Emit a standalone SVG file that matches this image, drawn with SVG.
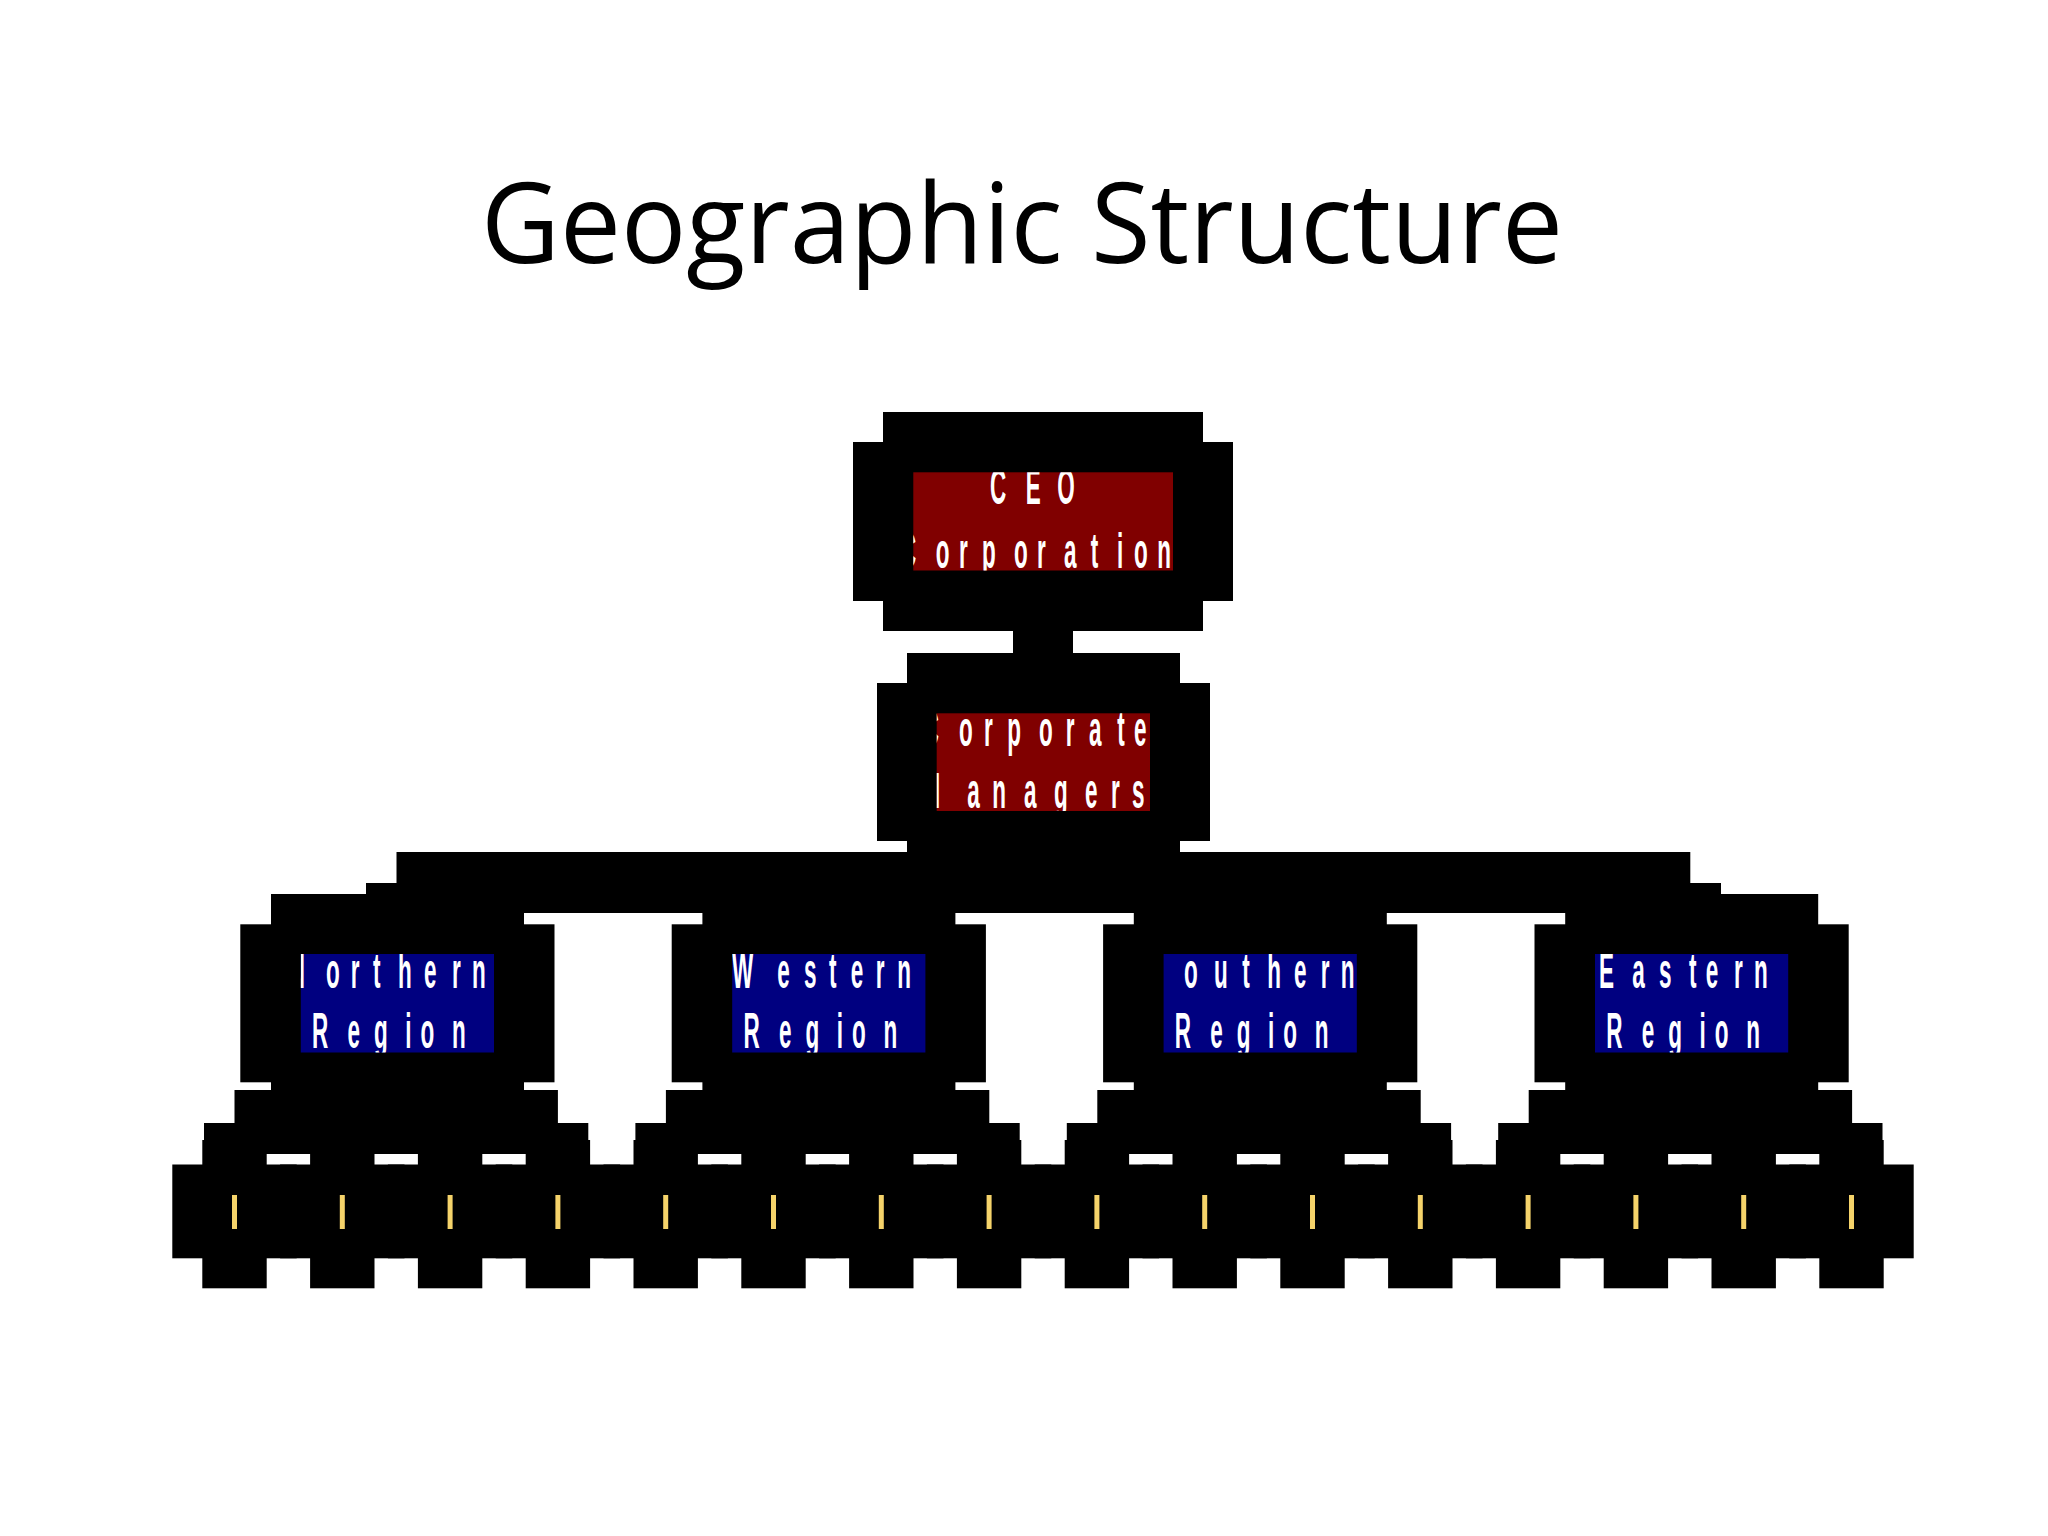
<svg xmlns="http://www.w3.org/2000/svg" xmlns:xlink="http://www.w3.org/1999/xlink" width="2048" height="1536" viewBox="0 0 2048 1536">
<style>
.blk{fill:#000}
.red{fill:#800000}
.blue{fill:#000080}
.yl{fill:#F5D36A}
.lbl{font-family:"Liberation Sans",Arial,sans-serif;font-weight:bold;font-size:50px;fill:#fff}
.title{font-family:"Open Sans","Noto Sans",sans-serif;font-size:112px;fill:#000}
</style>
<defs>
<clipPath id="clipCEO"><rect x="913.3" y="472.3" width="259.7" height="98.2"/></clipPath>
<clipPath id="clipCorp"><rect x="936.7" y="713.3" width="213.3" height="97.7"/></clipPath>
<clipPath id="clipRegion"><rect x="300.8" y="954" width="193.2" height="98.5"/></clipPath>
<g id="regionShape">
<rect class="blk" x="271" y="894" width="253" height="199.3"/>
<rect class="blk" x="240.3" y="924.3" width="314.2" height="158"/>
<rect class="blue" x="300.8" y="954" width="193.2" height="98.5"/>
</g>
<g id="leafShape">
<rect class="blk" x="-32.2" y="1140" width="64.4" height="148.3"/>
<rect class="blk" x="-62.2" y="1164.5" width="124.4" height="93.8"/>
<rect class="yl" x="-2.5" y="1195" width="5" height="34"/>
</g>
</defs>
<rect x="0" y="0" width="2048" height="1536" fill="#fff"/>
<text class="title" x="481" y="263" textLength="1082" lengthAdjust="spacingAndGlyphs">Geographic Structure</text>

<g id="connectors">
<rect class="blk" x="1013" y="620" width="60" height="45"/>
<rect class="blk" x="396.5" y="852" width="1293.8" height="61"/>
<rect class="blk" x="366" y="883" width="62" height="45"/>
<rect class="blk" x="1661" y="883" width="60" height="45"/>
<rect class="blk" x="234.5" y="1090" width="323.4" height="33"/>
<rect class="blk" x="204" y="1123" width="384.3" height="31"/>
<rect class="blk" x="665.9" y="1090" width="323.4" height="33"/>
<rect class="blk" x="635.4" y="1123" width="384.3" height="31"/>
<rect class="blk" x="1097.3" y="1090" width="323.4" height="33"/>
<rect class="blk" x="1066.8" y="1123" width="384.3" height="31"/>
<rect class="blk" x="1528.7" y="1090" width="323.4" height="33"/>
<rect class="blk" x="1498.2" y="1123" width="384.3" height="31"/>
</g>

<g id="node-ceo">
<rect class="blk" x="883" y="412" width="320" height="219"/>
<rect class="blk" x="853" y="442" width="380" height="159"/>
<rect class="red" x="913.3" y="472.3" width="259.7" height="98.2"/>
<g clip-path="url(#clipCEO)">
<text class="lbl" transform="scale(0.45,1)" x="2200 2279.3 2349.6" y="504.5">CEO</text>
<text class="lbl" transform="scale(0.45,1)" x="2000 2079.3 2131.1 2182.2 2253.3 2304.4 2364.4 2423.8 2482.2 2520 2571.8" y="567.7">Corporation</text>
</g>
</g>

<g id="node-corporate-managers">
<rect class="blk" x="907" y="653" width="273" height="200"/>
<rect class="blk" x="877" y="683" width="333" height="158"/>
<rect class="red" x="936.7" y="713.3" width="213.3" height="97.7"/>
<g clip-path="url(#clipCorp)">
<text class="lbl" transform="scale(0.45,1)" x="2050.4 2131.1 2186.7 2238.4 2308.9 2368.2 2420 2482.9 2520" y="746">Corporate</text>
<text class="lbl" transform="scale(0.45,1)" x="2047.8 2149.6 2205.1 2275.6 2342.2 2411.1 2468.9 2515.6" y="808.3">Managers</text>
</g>
</g>

<g id="node-northern" transform="translate(0,0)">
<use xlink:href="#regionShape"/>
<g clip-path="url(#clipRegion)">
<text class="lbl" transform="scale(0.45,1)" x="641.6 724.4 779.3 828.9 884.4 942.2 1004.4 1048.9" y="987.7">Northern</text>
<text class="lbl" transform="scale(0.45,1)" x="693.3 772.2 831.1 900.7 934.4 1004.4" y="1048.3">Region</text>
</g>
</g>
<g id="node-western" transform="translate(431.4,0)">
<use xlink:href="#regionShape"/>
<g clip-path="url(#clipRegion)">
<text class="lbl" transform="scale(0.45,1)" x="668 768.7 828 883.6 931.8 987.3 1035.3" y="987.7">Western</text>
<text class="lbl" transform="scale(0.45,1)" x="693.3 772.2 831.1 900.7 934.4 1004.4" y="1048.3">Region</text>
</g>
</g>
<g id="node-southern" transform="translate(862.8,0)">
<use xlink:href="#regionShape"/>
<g clip-path="url(#clipRegion)">
<text class="lbl" transform="scale(0.45,1)" x="628.9 713.8 780.4 843.3 898.9 958.2 1017.6 1062" y="987.7">Southern</text>
<text class="lbl" transform="scale(0.45,1)" x="693.3 772.2 831.1 900.7 934.4 1004.4" y="1048.3">Region</text>
</g>
</g>
<g id="node-eastern" transform="translate(1294.2,0)">
<use xlink:href="#regionShape"/>
<g clip-path="url(#clipRegion)">
<text class="lbl" transform="scale(0.45,1)" x="677.3 751.3 810.7 877.3 914.4 977.3 1021.8" y="987.7">Eastern</text>
<text class="lbl" transform="scale(0.45,1)" x="693.3 772.2 831.1 900.7 934.4 1004.4" y="1048.3">Region</text>
</g>
</g>

<g id="leaf-1"><use xlink:href="#leafShape" x="234.5"/></g>
<g id="leaf-2"><use xlink:href="#leafShape" x="342.3"/></g>
<g id="leaf-3"><use xlink:href="#leafShape" x="450.1"/></g>
<g id="leaf-4"><use xlink:href="#leafShape" x="557.9"/></g>
<g id="leaf-5"><use xlink:href="#leafShape" x="665.7"/></g>
<g id="leaf-6"><use xlink:href="#leafShape" x="773.5"/></g>
<g id="leaf-7"><use xlink:href="#leafShape" x="881.3"/></g>
<g id="leaf-8"><use xlink:href="#leafShape" x="989.1"/></g>
<g id="leaf-9"><use xlink:href="#leafShape" x="1096.9"/></g>
<g id="leaf-10"><use xlink:href="#leafShape" x="1204.7"/></g>
<g id="leaf-11"><use xlink:href="#leafShape" x="1312.5"/></g>
<g id="leaf-12"><use xlink:href="#leafShape" x="1420.3"/></g>
<g id="leaf-13"><use xlink:href="#leafShape" x="1528.1"/></g>
<g id="leaf-14"><use xlink:href="#leafShape" x="1635.9"/></g>
<g id="leaf-15"><use xlink:href="#leafShape" x="1743.7"/></g>
<g id="leaf-16"><use xlink:href="#leafShape" x="1851.5"/></g>
</svg>
